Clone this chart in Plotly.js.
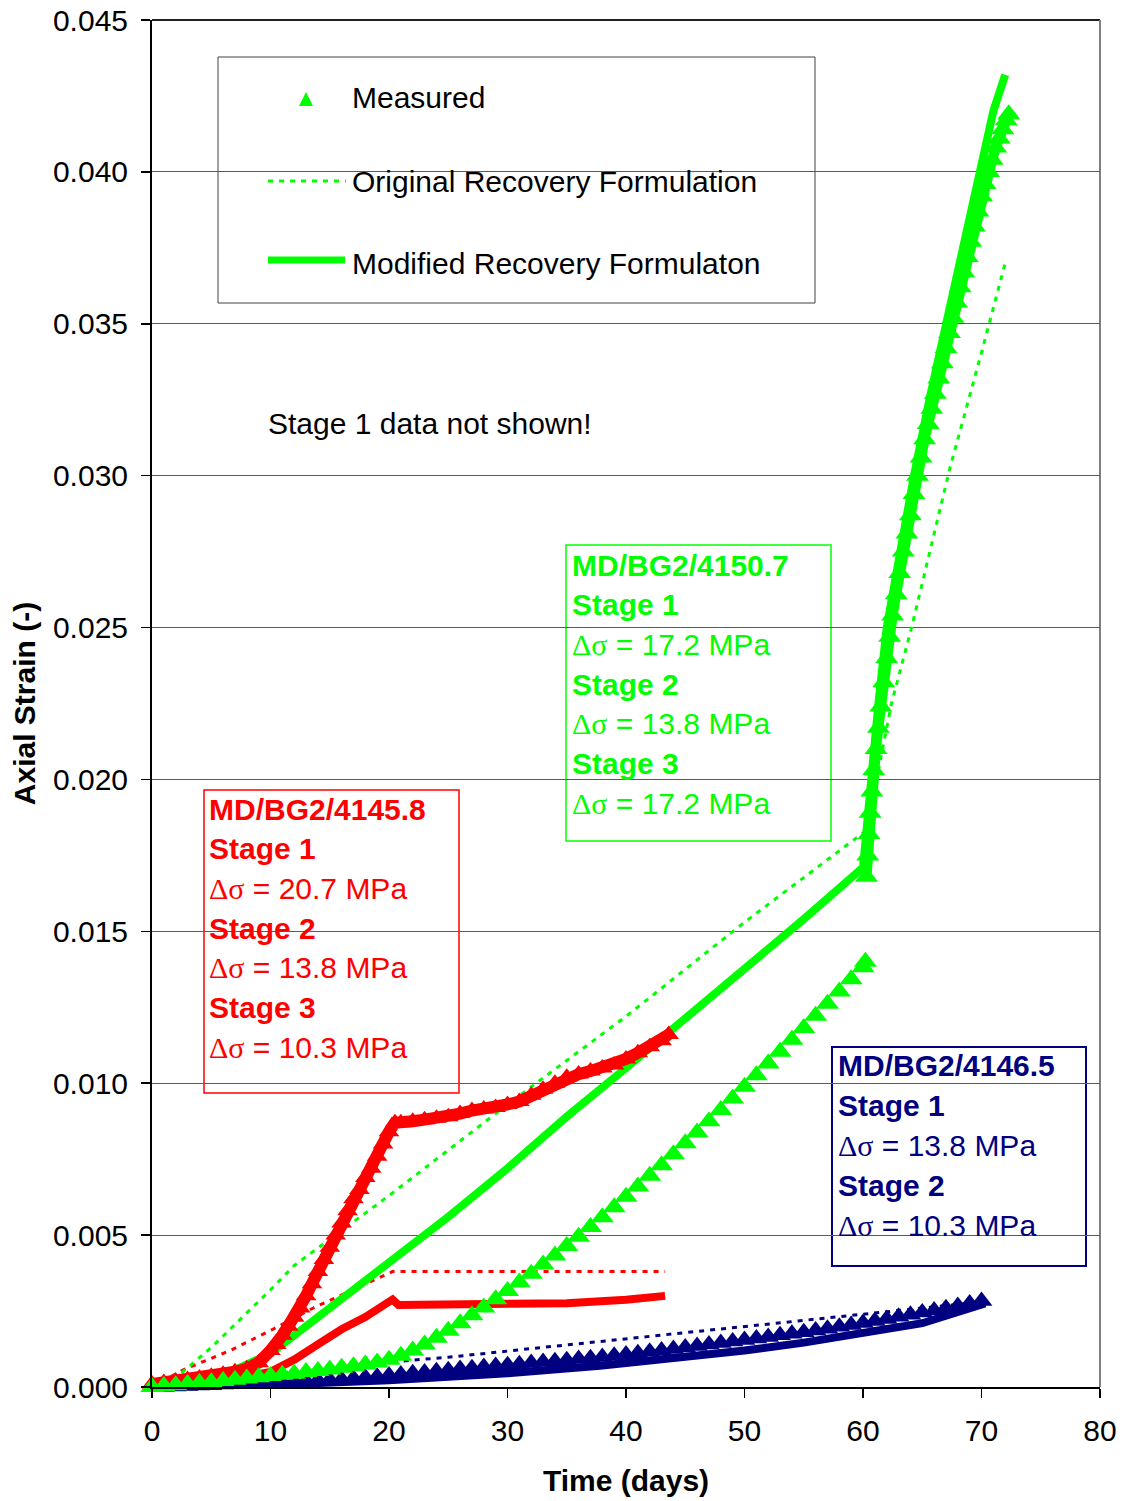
<!DOCTYPE html>
<html><head><meta charset="utf-8">
<script src="https://cdn.plot.ly/plotly-3.0.1.min.js"></script>
<style>html,body{margin:0;padding:0;background:#fff}#chart{width:1124px;height:1501px}</style>
</head><body><div id="chart"></div>
<script>
// ---------- DATA ----------
// MD/BG2/4145.8 (red)
const redMeasDay = [0,1,2,3,4,5,6,7,8,9,10,10.5,11,11.5,12,12.5,13,13.5,14,14.5,15,15.5,16,16.5,17,17.5,18,18.5,19,19.5,20,20.5,21,22,23,24,25,26,27,28,29,30,31,32,33,34,35,36,37,38,39,40,41,42,43,43.6];
const redMeasStrain = [0.0001,0.00015,0.0002,0.00025,0.0003,0.00035,0.00042,0.0005,0.0006,0.0008,0.0012,0.0014,0.0017,0.0020,0.0023,0.0026,0.0030,0.0034,0.0038,0.0042,0.0046,0.0050,0.0054,0.0058,0.0062,0.0065,0.0069,0.0072,0.0076,0.0080,0.0084,0.0087,0.0087,0.00875,0.0088,0.00885,0.0089,0.0090,0.0091,0.00915,0.0092,0.0093,0.0094,0.0096,0.0098,0.0100,0.0102,0.0103,0.0104,0.0105,0.0106,0.0108,0.0110,0.0112,0.0114,0.0116];
const redOrigDay = [0,2.6,6.6,10.2,13.6,16.4,18.6,20.3,25,30,35,40,43.3];
const redOrigStrain = [0,0.00056,0.0012,0.0019,0.0026,0.0031,0.0035,0.0038,0.0038,0.0038,0.0038,0.0038,0.0038];
const redModDay = [0,5,10,12,14,16,18,20.3,20.8,25,30,35,40,43.3];
const redModStrain = [0,0.0001,0.0005,0.0009,0.0014,0.0019,0.0023,0.00288,0.0027,0.0027,0.0027,0.00276,0.00287,0.0030];

// MD/BG2/4150.7 (green)
const greenMeasDay2 = [0,1,2,3,4,5,6,7,8,9,10,11,12,13,14,15,16,17,18,19,20,21,22,23,24,25,26,27,28,29,30,31,32,33,34,35,36,37,38,39,40,41,42,43,44,45,46,47,48,49,50,51,52,53,54,55,56,57,58,59,60,60.2];
const greenMeasStrain2 = [0,0.00003,0.00006,0.0001,0.00013,0.00016,0.0002,0.00024,0.00028,0.00032,0.00036,0.0004,0.00044,0.00049,0.00053,0.00058,0.00063,0.00068,0.00074,0.00081,0.0009,0.00103,0.0012,0.0014,0.00162,0.00185,0.0021,0.00236,0.00262,0.00289,0.00316,0.00344,0.00373,0.00403,0.00433,0.00464,0.00495,0.00527,0.00559,0.00592,0.00626,0.0066,0.00695,0.0073,0.00766,0.00802,0.00838,0.00875,0.00912,0.0095,0.00988,0.01026,0.01065,0.01104,0.01143,0.01182,0.01222,0.01262,0.01302,0.01342,0.01382,0.0140];
const greenMeasDay3 = [60.3,60.4,60.5,60.6,60.75,60.9,61.1,61.3,61.5,61.75,62.0,62.25,62.5,62.8,63.1,63.4,63.7,64.0,64.3,64.6,64.9,65.2,65.5,65.8,66.1,66.4,66.7,67.0,67.3,67.6,67.9,68.2,68.5,68.8,69.1,69.4,69.7,70.0,70.3,70.6,70.9,71.2,71.5,71.8,72.1,72.3];
const greenMeasStrain3 = [0.0168,0.0175,0.0182,0.0189,0.0196,0.0203,0.0210,0.0217,0.0224,0.0232,0.0240,0.0247,0.0254,0.0261,0.0268,0.0275,0.0281,0.0287,0.0294,0.0300,0.0306,0.0312,0.0317,0.0322,0.0327,0.0332,0.0337,0.0342,0.0347,0.0352,0.0357,0.0362,0.0367,0.0372,0.0377,0.0382,0.0387,0.0392,0.0396,0.0400,0.0404,0.0408,0.0411,0.0414,0.0417,0.0419];
const greenOrigDay = [0,2,5,10,12,20,30,40,50,60.2,61.0,62.4,64.1,67.3,70.1,72.0];
const greenOrigStrain = [0,0.0003,0.0013,0.0032,0.0040,0.0063,0.0093,0.0122,0.0153,0.0183,0.0197,0.0225,0.0250,0.0302,0.0342,0.0370];
const greenModDay = [0,5,10,12,15,20,25,30,35,40,43.4,45,50,55,60.0,60.3,60.6,61.3,62.0,63.1,64.3,65.6,67.0,68.4,69.8,71.0,72.0];
const greenModStrain = [0,0.0002,0.0011,0.0017,0.0026,0.0041,0.0056,0.0072,0.0089,0.0105,0.0116,0.0122,0.0138,0.0154,0.0171,0.0185,0.0200,0.0225,0.0250,0.0275,0.0300,0.0325,0.0350,0.0375,0.0400,0.0420,0.0432];

// MD/BG2/4146.5 (navy)
const blueMeasDay = [0,1,2,3,4,5,6,7,8,9,10,11,12,13,14,15,16,17,18,19,20,21,22,23,24,25,26,27,28,29,30,31,32,33,34,35,36,37,38,39,40,41,42,43,44,45,46,47,48,49,50,51,52,53,54,55,56,57,58,59,60,61,62,63,64,65,66,67,68,69,70];
const blueMeasStrain = [0,0.00001,0.00002,0.00003,0.00005,0.00006,0.00008,0.00009,0.00011,0.00012,0.00014,0.00015,0.00017,0.00019,0.00021,0.00023,0.00025,0.00028,0.00031,0.00034,0.00038,0.00041,0.00045,0.00048,0.00052,0.00055,0.00059,0.00062,0.00066,0.00069,0.00072,0.00075,0.00079,0.00082,0.00085,0.00088,0.00092,0.00095,0.00099,0.00103,0.00107,0.00111,0.00116,0.0012,0.00125,0.0013,0.00135,0.0014,0.00145,0.0015,0.00155,0.0016,0.00165,0.0017,0.00175,0.0018,0.00186,0.00192,0.00198,0.00204,0.00211,0.00217,0.00224,0.00231,0.00238,0.00245,0.00252,0.00259,0.00267,0.00275,0.00283];
const blueOrigDay = [0,5,10,15,20,25,30,35,40,45,50,55,60,65,70];
const blueOrigStrain = [0,0.0002,0.0004,0.0006,0.00082,0.00098,0.00118,0.00138,0.00158,0.00178,0.0020,0.0022,0.0024,0.0026,0.0028];
const blueModDay = [0,10,20,30,37.8,40,45,50,55,60,65,70.3];
const blueModStrain = [0,0.00007,0.00022,0.00045,0.0007,0.00078,0.00098,0.0012,0.00146,0.00175,0.0021,0.00275];

const xTickVals = [0,10,20,30,40,50,60,70,80];
const yTickVals = [0,0.005,0.01,0.015,0.02,0.025,0.03,0.035,0.04,0.045];

// ---------- STYLE ----------
const RED = '#FF0000', GREEN = '#00FF00', NAVY = '#000080';
const FONT = 'Liberation Sans, Arial, sans-serif';
const FS = 30;
const L = 152, R = 1100, T = 20, B = 1387;
const px = x => (x - L) / (R - L);
const py = y => (B - y) / (B - T);
const DOT = '5px,6px';

function meas(x, y, color, size, lineW) {
  return {x: x, y: y, type: 'scatter', mode: lineW ? 'lines+markers' : 'markers',
    line: {color: color, width: lineW || 0},
    marker: {symbol: 'triangle-up', size: size, color: color, line: {width: 0}},
    cliponaxis: false, showlegend: false, hoverinfo: 'skip'};
}
function ln(x, y, color, width, dash) {
  return {x: x, y: y, type: 'scatter', mode: 'lines',
    line: {color: color, width: width, dash: dash || 'solid'},
    cliponaxis: false, showlegend: false, hoverinfo: 'skip'};
}

const traces = [
  ln(blueOrigDay, blueOrigStrain, NAVY, 3, DOT),
  ln(blueModDay, blueModStrain, NAVY, 8),
  meas(blueMeasDay, blueMeasStrain, NAVY, 19),
  ln(redOrigDay, redOrigStrain, RED, 3, DOT),
  ln(redModDay, redModStrain, RED, 8),
  ln(greenOrigDay, greenOrigStrain, GREEN, 3, DOT),
  ln(greenModDay, greenModStrain, GREEN, 8),
  meas(redMeasDay, redMeasStrain, RED, 18, 12),
  meas(greenMeasDay2, greenMeasStrain2, GREEN, 20),
  meas(greenMeasDay3, greenMeasStrain3, GREEN, 20, 10)
];

const shapes = [];
const annotations = [];
function box(x0, y0, x1, y1, color, w) {
  shapes.push({type: 'rect', xref: 'paper', yref: 'paper', layer: 'between',
    x0: px(x0), x1: px(x1), y0: py(y1), y1: py(y0),
    fillcolor: '#FFFFFF', line: {color: color, width: w}});
}
function txt(x, y, s, color, bold) {
  annotations.push({xref: 'paper', yref: 'paper', x: px(x), y: py(y),
    xanchor: 'left', yanchor: 'middle', showarrow: false,
    text: bold ? '<b>' + s + '</b>' : s,
    font: {family: FONT, size: FS, color: color}});
}
const DS = '<span style="font-family:\'Liberation Serif\',\'Times New Roman\',serif">Δσ</span>';

// plot frame (top and right)
shapes.push({type: 'line', xref: 'paper', yref: 'paper', layer: 'below', x0: 0, x1: 1, y0: 1, y1: 1, line: {color: '#202020', width: 2}});
shapes.push({type: 'line', xref: 'paper', yref: 'paper', layer: 'below', x0: 1, x1: 1, y0: 0, y1: 1, line: {color: '#808080', width: 2}});

// legend
box(218, 57, 815, 303, '#404040', 1);
shapes.push({type: 'path', xref: 'paper', yref: 'paper', layer: 'between',
  path: 'M' + px(299) + ',' + py(106) + ' L' + px(313) + ',' + py(106) + ' L' + px(306) + ',' + py(92) + ' Z',
  fillcolor: GREEN, line: {width: 0}});
shapes.push({type: 'line', xref: 'paper', yref: 'paper', layer: 'between',
  x0: px(268), x1: px(346), y0: py(181), y1: py(181), line: {color: GREEN, width: 3, dash: DOT}});
shapes.push({type: 'line', xref: 'paper', yref: 'paper', layer: 'between',
  x0: px(268), x1: px(345), y0: py(260), y1: py(260), line: {color: GREEN, width: 7}});
txt(350, 98, 'Measured', '#000000', false);
txt(350, 181, 'Original Recovery Formulation', '#000000', false);
txt(350, 263, 'Modified Recovery Formulaton', '#000000', false);

txt(266, 423, 'Stage 1 data not shown!', '#000000', false);

// red box
box(204, 790, 459, 1093, RED, 1.5);
[['MD/BG2/4145.8', true], ['Stage 1', true], [DS + ' = 20.7 MPa', false], ['Stage 2', true],
 [DS + ' = 13.8 MPa', false], ['Stage 3', true], [DS + ' = 10.3 MPa', false]].forEach((l, i) =>
  txt(207, 809 + i * 39.7, l[0], RED, l[1]));

// green box
box(566, 545, 831, 841, GREEN, 1.5);
[['MD/BG2/4150.7', true], ['Stage 1', true], [DS + ' = 17.2 MPa', false], ['Stage 2', true],
 [DS + ' = 13.8 MPa', false], ['Stage 3', true], [DS + ' = 17.2 MPa', false]].forEach((l, i) =>
  txt(570, 565 + i * 39.7, l[0], GREEN, l[1]));

// blue box
box(832, 1047, 1086, 1266, NAVY, 2);
[['MD/BG2/4146.5', true], ['Stage 1', true], [DS + ' = 13.8 MPa', false], ['Stage 2', true],
 [DS + ' = 10.3 MPa', false]].forEach((l, i) =>
  txt(836, 1065 + i * 40, l[0], NAVY, l[1]));

const layout = {
  width: 1124, height: 1501,
  margin: {l: L, r: 1124 - R, t: T, b: 1501 - B, pad: 0},
  paper_bgcolor: '#FFFFFF', plot_bgcolor: '#FFFFFF',
  font: {family: FONT, size: FS, color: '#000000'},
  showlegend: false,
  xaxis: {
    range: [0, 80], tickvals: xTickVals, ticktext: xTickVals.map(String),
    showgrid: false, zeroline: false,
    showline: true, linecolor: '#000000', linewidth: 2,
    ticks: 'outside', ticklen: 9, tickwidth: 1.5, tickcolor: '#000000',
    ticklabelstandoff: 7,
    tickfont: {family: FONT, size: FS, color: '#000000'},
    title: {text: '<b>Time (days)</b>', font: {family: FONT, size: FS, color: '#000000'}, standoff: 24},
    automargin: false
  },
  yaxis: {
    range: [0, 0.045], tickvals: yTickVals, ticktext: yTickVals.map(v => v.toFixed(3)),
    showgrid: true, gridcolor: '#5a5a5a', gridwidth: 1, zeroline: false,
    showline: true, linecolor: '#000000', linewidth: 2,
    ticks: 'outside', ticklen: 9, tickwidth: 1.5, tickcolor: '#000000',
    ticklabelstandoff: 7,
    tickfont: {family: FONT, size: FS, color: '#000000'},
    title: {text: '<b>Axial Strain (-)</b>', font: {family: FONT, size: FS, color: '#000000'}, standoff: 8},
    automargin: false
  },
  shapes: shapes,
  annotations: annotations
};

Plotly.newPlot('chart', traces, layout, {staticPlot: true, displayModeBar: false});
</script></body></html>
